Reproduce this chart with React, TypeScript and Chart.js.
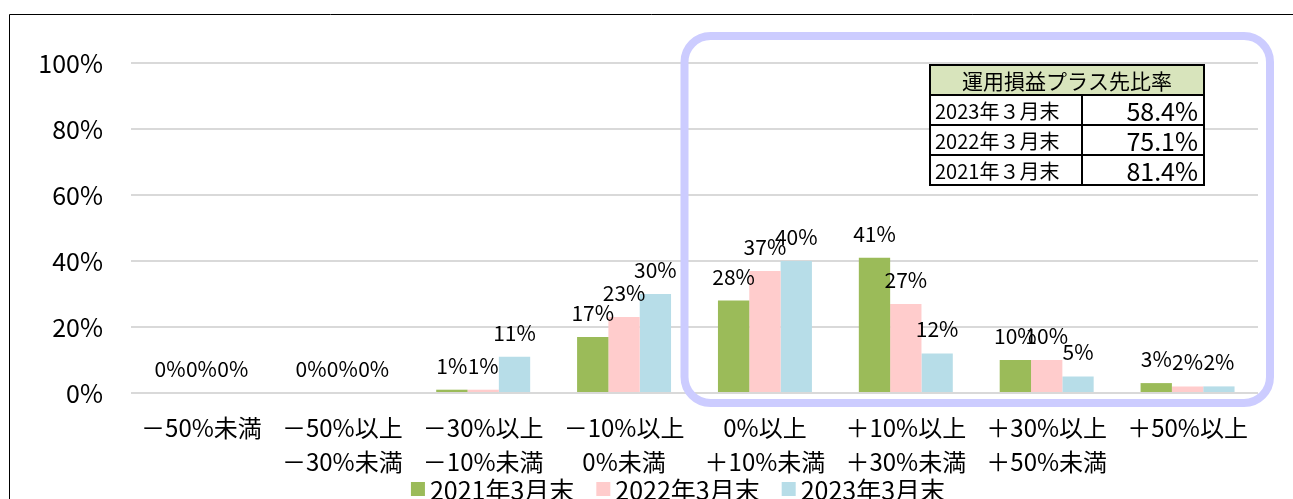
import React, { useEffect, useRef } from "react";
import { Chart, registerables } from "chart.js";
Chart.register(...registerables);

const categories: (string | string[])[] = [
  "－50%未満",
  ["－50%以上", "－30%未満"],
  ["－30%以上", "－10%未満"],
  ["－10%以上", "0%未満"],
  ["0%以上", "＋10%未満"],
  ["＋10%以上", "＋30%未満"],
  ["＋30%以上", "＋50%未満"],
  "＋50%以上",
];
const series2021 = [0, 0, 1, 17, 28, 41, 10, 3];
const series2022 = [0, 0, 1, 23, 37, 27, 10, 2];
const series2023 = [0, 0, 11, 30, 40, 12, 5, 2];
const seriesLabels = ["2021年3月末", "2022年3月末", "2023年3月末"];
const seriesColors = ["#9bbb59", "#ffcccc", "#b7dde8"];
const yMin = 0;
const yMax = 100;
const yStep = 20;
const tableTitle = "運用損益プラス先比率";
const tableRowLabels = ["2023年３月末", "2022年３月末", "2021年３月末"];
const tableRowValues = ["58.4%", "75.1%", "81.4%"];

const FONT = "'Noto Sans CJK JP', 'Noto Sans', sans-serif";

const decorPlugin = {
  id: "decor",
  beforeDraw(chart: any) {
    const ctx = chart.ctx;
    ctx.save();
    ctx.fillStyle = "#ffffff";
    ctx.fillRect(0, 0, chart.width, chart.height);
    ctx.strokeStyle = "#000000";
    ctx.lineWidth = 1;
    ctx.beginPath();
    ctx.moveTo(9.5, chart.height + 5);
    ctx.lineTo(9.5, 14.5);
    ctx.lineTo(chart.width + 5, 14.5);
    ctx.stroke();
    ctx.restore();
  },
  afterDatasetsDraw(chart: any) {
    const ctx = chart.ctx;
    ctx.save();
    // data labels
    ctx.fillStyle = "#000000";
    ctx.font = `21px ${FONT}`;
    ctx.textAlign = "center";
    ctx.textBaseline = "middle";
    chart.data.datasets.forEach((ds: any, i: number) => {
      const meta = chart.getDatasetMeta(i);
      meta.data.forEach((el: any, j: number) => {
        ctx.fillText(`${ds.data[j]}%`, el.x, el.y - 24);
      });
    });
    // highlight rounded rect
    const area = chart.chartArea;
    const ys = chart.scales.y;
    const catW = (area.right - area.left) / categories.length;
    const left = area.left + catW * 4 - 10;
    const right = area.right + 12;
    const top = ys.getPixelForValue(yMax) - 27;
    const bottom = ys.getPixelForValue(0) + 10;
    const r = 26;
    ctx.strokeStyle = "#ccccff";
    ctx.lineWidth = 8;
    ctx.beginPath();
    ctx.moveTo(left + r, top);
    ctx.lineTo(right - r, top);
    ctx.arcTo(right, top, right, top + r, r);
    ctx.lineTo(right, bottom - r);
    ctx.arcTo(right, bottom, right - r, bottom, r);
    ctx.lineTo(left + r, bottom);
    ctx.arcTo(left, bottom, left, bottom - r, r);
    ctx.lineTo(left, top + r);
    ctx.arcTo(left, top, left + r, top, r);
    ctx.closePath();
    ctx.stroke();

    // table
    const tx = 930, ty = 65, tw = 274, rh = 30, split = 1082;
    ctx.fillStyle = "#d8e4bc";
    ctx.fillRect(tx, ty, tw, rh);
    ctx.fillStyle = "#ffffff";
    ctx.fillRect(tx, ty + rh, tw, rh * 3);
    ctx.strokeStyle = "#000000";
    ctx.lineWidth = 2;
    ctx.strokeRect(tx, ty, tw, rh * 4);
    ctx.beginPath();
    for (let k = 1; k < 4; k++) {
      ctx.moveTo(tx, ty + rh * k);
      ctx.lineTo(tx + tw, ty + rh * k);
    }
    ctx.moveTo(split, ty + rh);
    ctx.lineTo(split, ty + rh * 4);
    ctx.stroke();
    ctx.fillStyle = "#000000";
    ctx.textBaseline = "middle";
    ctx.font = `21px ${FONT}`;
    ctx.textAlign = "center";
    ctx.fillText(tableTitle, tx + tw / 2, ty + rh / 2 + 1);
    tableRowLabels.forEach((lab, k) => {
      ctx.font = `20px ${FONT}`;
      ctx.textAlign = "left";
      ctx.fillText(lab, tx + 5, ty + rh * (k + 1) + rh / 2 + 1);
      ctx.font = `25px ${FONT}`;
      ctx.textAlign = "right";
      ctx.fillText(tableRowValues[k], tx + tw - 6, ty + rh * (k + 1) + rh / 2 + 1);
    });

    // legend
    ctx.font = `25px ${FONT}`;
    ctx.textAlign = "left";
    const box = 14, gap = 5, spacing = 22;
    const widths = seriesLabels.map((l) => ctx.measureText(l).width);
    const total = widths.reduce((a, b) => a + b, 0) + seriesLabels.length * (box + gap) + spacing * (seriesLabels.length - 1);
    let lx = 678 - total / 2;
    const ly = 489;
    chart.data.datasets.forEach((ds: any, i: number) => {
      ctx.fillStyle = ds.backgroundColor;
      ctx.fillRect(lx, ly - box / 2, box, box);
      ctx.fillStyle = "#000000";
      ctx.fillText(ds.label, lx + box + gap, ly + 1);
      lx += box + gap + widths[i] + spacing;
    });
    ctx.restore();
  },
};

export default function App() {
  const ref = useRef<HTMLCanvasElement>(null);
  useEffect(() => {
    const chart = new Chart(ref.current!, {
      type: "bar",
      data: {
        labels: categories,
        datasets: [series2021, series2022, series2023].map((d, i) => ({
          label: seriesLabels[i],
          data: d,
          backgroundColor: seriesColors[i],
          borderWidth: 0,
          categoryPercentage: 0.667,
          barPercentage: 1,
        })),
      },
      options: {
        responsive: false,
        devicePixelRatio: 1,
        animation: false,
        layout: { padding: { left: 0, right: 35, top: 63, bottom: 0 } },
        plugins: { legend: { display: false }, tooltip: { enabled: false } },
        scales: {
          x: {
            grid: { display: false, drawTicks: false },
            border: { display: false },
            ticks: {
              color: "#000000",
              font: { family: FONT, size: 24, lineHeight: 1.4 },
              maxRotation: 0,
              autoSkip: false,
              padding: 18,
            },
            afterFit: (s: any) => {
              s.height = 106;
            },
          },
          y: {
            min: yMin,
            max: yMax,
            grid: { color: "#d9d9d9", lineWidth: 2, drawTicks: false },
            border: { display: false },
            ticks: {
              stepSize: yStep,
              color: "#000000",
              font: { family: FONT, size: 25 },
              padding: 28,
              callback: (v: any) => `${v}%`,
            },
            afterFit: (s: any) => {
              s.width = 131;
            },
          },
        },
      },
      plugins: [decorPlugin],
    } as any);
    return () => chart.destroy();
  }, []);
  return (
    <div style={{ position: "fixed", left: 0, top: 0, width: 1293, height: 499, overflow: "hidden", background: "#fff" }}>
      <canvas ref={ref} width={1293} height={499} style={{ display: "block", width: 1293, height: 499 }} />
    </div>
  );
}
